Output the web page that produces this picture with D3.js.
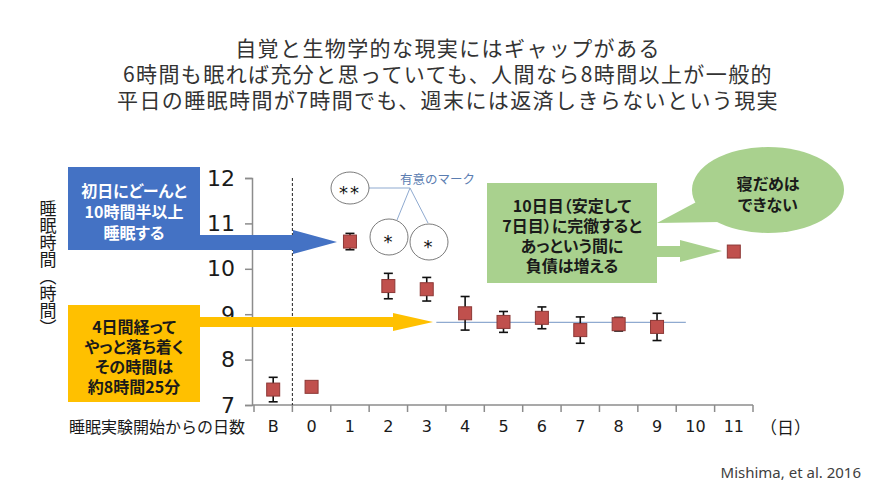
<!DOCTYPE html>
<html>
<head>
<meta charset="utf-8">
<script src="https://cdn.jsdelivr.net/npm/d3@7"></script>
<style>
  body { margin: 0; background: #fff; }
  svg { display: block; font-family: 'Noto Sans CJK JP', sans-serif; }
</style>
</head>
<body>
<div id="chart"></div>
<script>
'use strict'

// Data
const days = ['B', '0', '1', '2', '3', '4', '5', '6', '7', '8', '9', '10', '11']
const sleepHours = [7.34, 7.40, 10.60, 9.62, 9.55, 9.02, 8.83, 8.92, 8.65, 8.78, 8.72, null, 10.38]
const errorHours = [0.27, 0, 0.18, 0.28, 0.26, 0.37, 0.23, 0.24, 0.29, 0.15, 0.30, null, 0.07]
const yTicks = [7, 8, 9, 10, 11, 12]
const stableLevel = 8.82

const titleLines = [
  '自覚と生物学的な現実にはギャップがある',
  '6時間も眠れば充分と思っていても、人間なら8時間以上が一般的',
  '平日の睡眠時間が7時間でも、週末には返済しきらないという現実',
]
const blueNote = ['初日にどーんと', '10時間半以上', '睡眠する']
const yellowNote = ['4日間経って', 'やっと落ち着く', 'その時間は', '約8時間25分']
const greenNote = ['10日目（安定して', '7日目）に完徹すると', 'あっという間に', '負債は増える']
const bubbleNote = ['寝だめは', 'できない']

function draw() {
  const width = 896
  const height = 504

  const svg = d3
    .select('#chart')
    .append('svg')
    .attr('width', width)
    .attr('height', height)

  // Scales
  const xScale = d3.scaleBand().domain(days).range([254, 753]).padding(0)
  const yScale = d3.scaleLinear().domain([7, 12]).range([405, 178])
  const bw = xScale.bandwidth()
  const cx = (d) => xScale(d) + bw / 2

  // Title
  svg
    .append('g')
    .selectAll('text')
    .data(titleLines)
    .join('text')
    .attr('x', 448)
    .attr('y', (d, i) => 47 + i * 26)
    .attr('text-anchor', 'middle')
    .attr('dominant-baseline', 'central')
    .attr('font-size', 21)
    .attr('letter-spacing', 1.4)
    .attr('fill', '#333')
    .text((d) => d)

  // Y axis
  const yAxis = d3
    .axisLeft(yScale)
    .tickValues(yTicks)
    .tickFormat(d3.format('d'))
    .tickSize(7)
    .tickPadding(10)
  const yAxisGroup = svg
    .append('g')
    .attr('transform', `translate(${xScale.range()[0] - 2}, 0)`)
    .call(yAxis)
  yAxisGroup.select('.domain').attr('stroke', '#8c8c8c').attr('stroke-width', 1.5)
  yAxisGroup.selectAll('.tick line').attr('stroke', '#8c8c8c').attr('stroke-width', 1.5)
  yAxisGroup
    .selectAll('.tick text')
    .attr('font-family', 'DejaVu Sans, sans-serif')
    .attr('font-size', 22)
    .attr('fill', '#1a1a1a')

  // X axis: ticks on category boundaries
  const xAxisGroup = svg.append('g')
  xAxisGroup
    .append('line')
    .attr('x1', xScale.range()[0] - 2)
    .attr('x2', xScale.range()[1])
    .attr('y1', yScale(7))
    .attr('y2', yScale(7))
    .attr('stroke', '#8c8c8c')
    .attr('stroke-width', 1.5)
  xAxisGroup
    .selectAll('.bound')
    .data(d3.range(days.length + 1))
    .join('line')
    .attr('x1', (i) => xScale.range()[0] + i * bw)
    .attr('x2', (i) => xScale.range()[0] + i * bw)
    .attr('y1', yScale(7))
    .attr('y2', yScale(7) + 7)
    .attr('stroke', '#8c8c8c')
    .attr('stroke-width', 1.5)
  xAxisGroup
    .selectAll('.lbl')
    .data(days)
    .join('text')
    .attr('x', cx)
    .attr('y', 426)
    .attr('text-anchor', 'middle')
    .attr('dominant-baseline', 'central')
    .attr('font-family', 'DejaVu Sans, sans-serif')
    .attr('font-size', 16)
    .attr('fill', '#1a1a1a')
    .text((d) => d)

  svg
    .append('text')
    .attr('x', 245)
    .attr('y', 426)
    .attr('text-anchor', 'end')
    .attr('dominant-baseline', 'central')
    .attr('font-size', 16)
    .attr('fill', '#1a1a1a')
    .text('睡眠実験開始からの日数')

  svg
    .append('text')
    .attr('x', 760)
    .attr('y', 426)
    .attr('dominant-baseline', 'central')
    .attr('font-size', 17)
    .attr('fill', '#1a1a1a')
    .text('（日）')

  // Y axis title (vertical)
  svg
    .append('text')
    .attr('x', 48)
    .attr('y', 200)
    .style('writing-mode', 'vertical-rl')
    .attr('font-size', 17)
    .attr('fill', '#1a1a1a')
    .text('睡眠時間（時間）')

  // Baseline divider
  svg
    .append('line')
    .attr('x1', xScale('0'))
    .attr('x2', xScale('0'))
    .attr('y1', yScale(12))
    .attr('y2', yScale(7))
    .attr('stroke', '#222')
    .attr('stroke-width', 1)
    .attr('stroke-dasharray', '3,2')

  // Stable level line
  svg
    .append('line')
    .attr('x1', xScale('3') + bw * 0.75)
    .attr('x2', xScale('10') + bw * 0.25)
    .attr('y1', yScale(stableLevel))
    .attr('y2', yScale(stableLevel))
    .attr('stroke', '#8faad0')
    .attr('stroke-width', 1.2)

  // Points
  const points = days
    .map((d, i) => ({ day: d, value: sleepHours[i], err: errorHours[i] }))
    .filter((p) => p.value !== null)

  const errGroup = svg.append('g').attr('stroke', '#111').attr('stroke-width', 1.6)
  points
    .filter((p) => p.err > 0)
    .forEach((p) => {
      const x = cx(p.day)
      const top = yScale(p.value + p.err)
      const bot = yScale(p.value - p.err)
      errGroup.append('line').attr('x1', x).attr('x2', x).attr('y1', top).attr('y2', bot)
      errGroup.append('line').attr('x1', x - 4.5).attr('x2', x + 4.5).attr('y1', top).attr('y2', top)
      errGroup.append('line').attr('x1', x - 4.5).attr('x2', x + 4.5).attr('y1', bot).attr('y2', bot)
    })

  svg
    .append('g')
    .selectAll('rect')
    .data(points)
    .join('rect')
    .attr('x', (p) => cx(p.day) - 6.5)
    .attr('y', (p) => yScale(p.value) - 6.5)
    .attr('width', 13)
    .attr('height', 13)
    .attr('fill', '#c0504d')
    .attr('stroke', '#8c3836')
    .attr('stroke-width', 1)

  // Annotation boxes + arrows
  const noteText = (lines, xc, y0, gap, color) => {
    svg
      .append('g')
      .selectAll('text')
      .data(lines)
      .join('text')
      .attr('x', xc)
      .attr('y', (d, i) => y0 + i * gap)
      .attr('text-anchor', 'middle')
      .attr('dominant-baseline', 'central')
      .attr('font-size', 16)
      .attr('font-weight', 700)
      .attr('fill', color)
      .style('font-feature-settings', '"palt"')
      .text((d) => d)
  }

  // blue
  svg.append('rect').attr('x', 68).attr('y', 167).attr('width', 132).attr('height', 83).attr('fill', '#4472c4')
  svg
    .append('polygon')
    .attr('points', '199,235 293,235 293,230 337,242 293,254 293,250 199,250')
    .attr('fill', '#4472c4')
  noteText(blueNote, 134, 190, 21, '#fff')

  // yellow
  svg.append('rect').attr('x', 68).attr('y', 305).attr('width', 132).attr('height', 97).attr('fill', '#ffc000')
  svg
    .append('polygon')
    .attr('points', '199,317 393,317 393,313 433,322 393,331 393,327 199,327')
    .attr('fill', '#ffc000')
  noteText(yellowNote, 134, 326, 20, '#1a1a1a')

  // green
  svg.append('rect').attr('x', 487).attr('y', 183).attr('width', 170).attr('height', 100).attr('fill', '#a9d18e')
  svg
    .append('polygon')
    .attr('points', '656,246 680,246 680,240 722,251 680,262 680,257 656,257')
    .attr('fill', '#a9d18e')
  noteText(greenNote, 572, 205, 20, '#1a1a1a')

  // speech bubble
  svg.append('ellipse').attr('cx', 768).attr('cy', 190).attr('rx', 76).attr('ry', 43).attr('fill', '#a9d18e')
  svg.append('polygon').attr('points', '657,223 702,199 720,222').attr('fill', '#a9d18e')
  noteText(bubbleNote, 768, 183, 21, '#1a1a1a')

  // Significance marks
  const sig = svg.append('g')
  sig
    .append('path')
    .attr('d', 'M369,188 L410,188 M410,188 L397,220 M410,188 L428,223')
    .attr('stroke', '#8faad0')
    .attr('stroke-width', 1)
    .attr('fill', 'none')
  const circles = [
    { x: 350, y: 188, rx: 19, ry: 16, t: '**' },
    { x: 389, y: 237, rx: 19, ry: 18, t: '*' },
    { x: 429, y: 242, rx: 19, ry: 18, t: '*' },
  ]
  sig
    .selectAll('ellipse')
    .data(circles)
    .join('ellipse')
    .attr('cx', (c) => c.x)
    .attr('cy', (c) => c.y)
    .attr('rx', (c) => c.rx)
    .attr('ry', (c) => c.ry)
    .attr('fill', '#fff')
    .attr('stroke', '#595959')
    .attr('stroke-width', 0.8)
  sig
    .selectAll('text')
    .data(circles)
    .join('text')
    .attr('x', (c) => c.x)
    .attr('y', (c) => c.y + 4)
    .attr('text-anchor', 'middle')
    .attr('dominant-baseline', 'central')
    .attr('font-family', 'DejaVu Sans, sans-serif')
    .attr('font-size', 18)
    .attr('letter-spacing', 2)
    .attr('fill', '#111')
    .text((c) => c.t)
  sig
    .append('text')
    .attr('x', 400)
    .attr('y', 178)
    .attr('dominant-baseline', 'central')
    .attr('font-size', 12.5)
    .attr('fill', '#5b7db1')
    .text('有意のマーク')

  // Source
  svg
    .append('text')
    .attr('x', 861)
    .attr('y', 472)
    .attr('text-anchor', 'end')
    .attr('dominant-baseline', 'central')
    .attr('font-family', 'Noto Sans, sans-serif')
    .attr('font-size', 15)
    .attr('fill', '#404040')
    .text('Mishima, et al. 2016')
}

draw()
</script>
</body>
</html>
